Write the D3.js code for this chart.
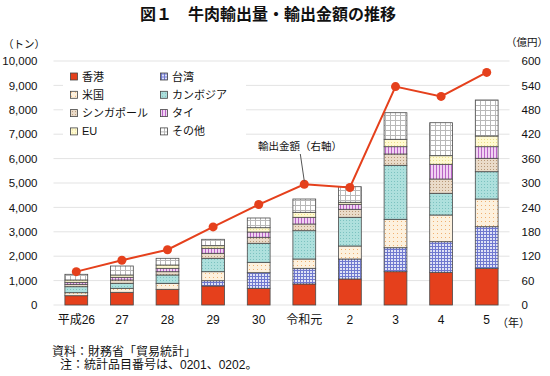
<!DOCTYPE html>
<html>
<head>
<meta charset="utf-8">
<script src="https://cdn.jsdelivr.net/npm/d3@7"></script>
<style>
  body { margin: 0; background: #fff; }
  svg { display: block; font-family: "Liberation Sans", "Noto Sans CJK JP", sans-serif; }
</style>
</head>
<body>
<div id="container"></div>
<script>
// categories and series (tons / 億円)
let years = ["平成26", "27", "28", "29", "30", "令和元", "2", "3", "4", "5"];
let countries = ["香港", "台湾", "米国", "カンボジア", "シンガポール", "タイ", "EU", "その他"];

let hongkong  = [381, 520, 643, 779, 684, 861, 1066, 1365, 1340, 1504];
let taiwan    = [0, 0, 0, 217, 640, 643, 819, 983, 1254, 1705];
let usa       = [123, 164, 246, 369, 426, 381, 533, 1164, 1095, 1135];
let cambodia  = [246, 205, 341, 549, 779, 1160, 1176, 2213, 889, 1119];
let singapore = [98, 136, 135, 205, 246, 275, 328, 464, 586, 549];
let thailand  = [82, 110, 139, 205, 217, 274, 205, 299, 602, 476];
let eu        = [95, 95, 135, 106, 176, 205, 82, 303, 353, 438];
let others    = [233, 368, 275, 263, 398, 545, 639, 1090, 1352, 1476];

let exportValue = [82, 110, 136, 192, 247, 297, 289, 537, 513, 572];

let leftTicks = [0, 1000, 2000, 3000, 4000, 5000, 6000, 7000, 8000, 9000, 10000];
let rightTicks = [0, 60, 120, 180, 240, 300, 360, 420, 480, 540, 600];

let w = 550;
let h = 376;
let plotLeft = 53.5, plotRight = 509.5, plotTop = 61, plotBottom = 305;
let RED = "#e5401c";

let series = [hongkong, taiwan, usa, cambodia, singapore, thailand, eu, others];
let table = years.map((y, i) => {
    let row = { year: y };
    countries.forEach((c, j) => row[c] = series[j][i]);
    return row;
});

let viz = d3.select('#container')
    .append('svg')
    .attr('width', w)
    .attr('height', h);

// PATTERNS
let defs = viz.append('defs');
function pattern(id, size, bg, draw) {
    let p = defs.append('pattern')
        .attr('id', id)
        .attr('patternUnits', 'userSpaceOnUse')
        .attr('width', size)
        .attr('height', size);
    p.append('rect').attr('width', size).attr('height', size).attr('fill', bg);
    draw(p);
}
pattern('p-hk', 4, RED, p => {});
pattern('p-tw', 3, '#dfe2f6', p => {
    p.append('rect').attr('x', 0).attr('y', 0).attr('width', 3).attr('height', 1).attr('fill', '#6f78cf');
    p.append('rect').attr('x', 0).attr('y', 0).attr('width', 1).attr('height', 3).attr('fill', '#6f78cf');
});
pattern('p-us', 4, '#fdf1de', p => {
    p.append('rect').attr('x', 1).attr('y', 1).attr('width', 1).attr('height', 1).attr('fill', '#f0b070');
});
pattern('p-kh', 3, '#aee0dd', p => {
    p.append('rect').attr('x', 1).attr('y', 1).attr('width', 1).attr('height', 1).attr('fill', '#7cc2c0');
});
pattern('p-sg', 3, '#eadbc9', p => {
    p.append('rect').attr('x', 1).attr('y', 1).attr('width', 1).attr('height', 1).attr('fill', '#b89878');
});
pattern('p-th', 3, '#f1d2f2', p => {
    p.append('rect').attr('x', 1).attr('y', 0).attr('width', 1).attr('height', 3).attr('fill', '#b866c6');
});
pattern('p-eu', 3, '#fffad2', p => {
    p.append('rect').attr('x', 1).attr('y', 1).attr('width', 1).attr('height', 1).attr('fill', '#ece08a');
});
pattern('p-ot', 5, '#ffffff', p => {
    p.append('rect').attr('x', 0).attr('y', 0).attr('width', 5).attr('height', 1).attr('fill', '#b8b8b8');
    p.append('rect').attr('x', 0).attr('y', 0).attr('width', 1).attr('height', 5).attr('fill', '#b8b8b8');
});
let fills = ['p-hk', 'p-tw', 'p-us', 'p-kh', 'p-sg', 'p-th', 'p-eu', 'p-ot'];

// SCALES
let xScale = d3.scaleBand()
    .domain(years)
    .range([plotLeft, plotRight])
    .paddingInner(0.5)
    .paddingOuter(0.25);
let yLeft = d3.scaleLinear().domain([0, 10000]).range([plotBottom, plotTop]);
let yRight = d3.scaleLinear().domain([0, 600]).range([plotBottom, plotTop]);

// GRID
viz.append('g').selectAll('line')
    .data(leftTicks)
    .join('line')
    .attr('x1', plotLeft).attr('x2', plotRight)
    .attr('y1', d => yLeft(d)).attr('y2', d => yLeft(d))
    .attr('stroke', '#e3e3e3')
    .attr('stroke-width', 1);

// AXES
let leftAxis = viz.append('g')
    .attr('transform', `translate(${plotLeft},0)`)
    .call(d3.axisLeft(yLeft).tickValues(leftTicks).tickSize(0).tickPadding(16).tickFormat(d3.format(',')));
let rightAxis = viz.append('g')
    .attr('transform', `translate(${plotRight},0)`)
    .call(d3.axisRight(yRight).tickValues(rightTicks).tickSize(0).tickPadding(12));
let bottomAxis = viz.append('g')
    .attr('transform', `translate(0,${plotBottom})`)
    .call(d3.axisBottom(xScale).tickSize(0).tickPadding(10));
[leftAxis, rightAxis, bottomAxis].forEach(g => {
    g.select('.domain').remove();
    g.selectAll('text').attr('font-size', 11.5).attr('fill', '#111')
        .attr('font-family', '"Liberation Sans", "Noto Sans CJK JP", sans-serif');
});
bottomAxis.selectAll('text').attr('font-size', 12);

// BARS
let stack = d3.stack().keys(countries)(table);
let layers = viz.append('g').classed('bars', true)
    .selectAll('g')
    .data(stack)
    .join('g')
    .attr('fill', (d, i) => `url(#${fills[i]})`);
layers.selectAll('rect')
    .data(d => d.filter(s => s[1] - s[0] > 0))
    .join('rect')
    .attr('x', d => xScale(d.data.year))
    .attr('width', xScale.bandwidth())
    .attr('y', d => yLeft(d[1]))
    .attr('height', d => yLeft(d[0]) - yLeft(d[1]))
    .attr('stroke', '#4a4a4a')
    .attr('stroke-width', 0.8);

// LINE
let cx = (d, i) => xScale(years[i]) + xScale.bandwidth() / 2;
viz.append('path')
    .datum(exportValue)
    .attr('d', d3.line().x(cx).y(d => yRight(d)))
    .attr('fill', 'none')
    .attr('stroke', RED)
    .attr('stroke-width', 2);
viz.append('g').selectAll('circle')
    .data(exportValue)
    .join('circle')
    .attr('cx', cx)
    .attr('cy', d => yRight(d))
    .attr('r', 4.5)
    .attr('fill', RED);

// annotation for the line
let px = cx(null, 5), py = yRight(exportValue[5]);
viz.append('line')
    .attr('x1', px - 4).attr('y1', 154)
    .attr('x2', px).attr('y2', py - 3)
    .attr('stroke', '#555').attr('stroke-width', 1);
viz.append('text')
    .attr('x', 258).attr('y', 150)
    .attr('font-size', 10.5)
    .attr('fill', '#111')
    .text('輸出金額（右軸）');

// LEGEND
let legend = viz.append('g');
legend.append('rect')
    .attr('x', 63).attr('y', 63).attr('width', 183).attr('height', 93)
    .attr('fill', '#fff');
let items = legend.selectAll('g.item')
    .data(countries)
    .join('g')
    .classed('item', true)
    .attr('transform', (d, i) => `translate(${i % 2 ? 164 : 74},${76.5 + Math.floor(i / 2) * 18.3})`);
items.append('rect')
    .attr('x', -3.5).attr('y', -3.5).attr('width', 7).attr('height', 7)
    .attr('fill', (d, i) => `url(#${fills[i]})`)
    .attr('stroke', '#444').attr('stroke-width', 0.8);
items.append('text')
    .attr('x', 8).attr('y', 4)
    .attr('font-size', 11)
    .attr('fill', '#111')
    .text(d => d);

// TITLES / UNITS
viz.append('text')
    .attr('x', 268).attr('y', 20)
    .attr('text-anchor', 'middle')
    .attr('font-size', 16)
    .attr('font-weight', 'bold')
    .attr('fill', '#111')
    .text('図１　牛肉輸出量・輸出金額の推移');
viz.append('text')
    .attr('x', 3).attr('y', 48)
    .attr('font-size', 10.5).attr('fill', '#111')
    .text('（トン）');
viz.append('text')
    .attr('x', 548).attr('y', 46)
    .attr('text-anchor', 'end')
    .attr('font-size', 10.5).attr('fill', '#111')
    .text('（億円）');
viz.append('text')
    .attr('x', 497).attr('y', 327)
    .attr('font-size', 11).attr('fill', '#111')
    .text('（年）');

// SOURCE NOTES
viz.append('text')
    .attr('x', 52).attr('y', 356)
    .attr('font-size', 12).attr('fill', '#111')
    .text('資料：財務省「貿易統計」');
viz.append('text')
    .attr('x', 60).attr('y', 369)
    .attr('font-size', 12).attr('fill', '#111')
    .text('注：統計品目番号は、0201、0202。');
</script>
</body>
</html>
